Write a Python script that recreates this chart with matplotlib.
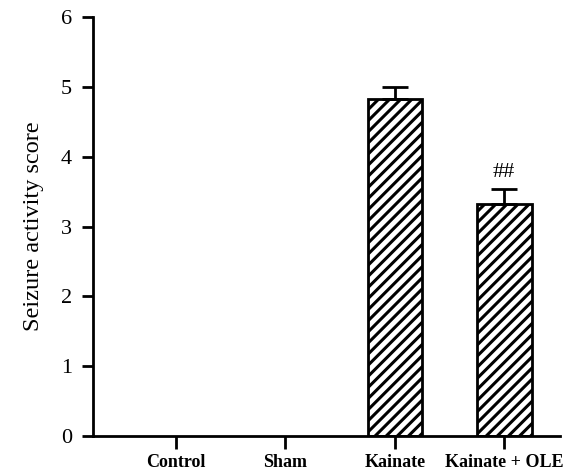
import numpy as np
import matplotlib.pyplot as plt

plt.rcParams['font.family'] = ['Liberation Serif', 'DejaVu Serif']
plt.rcParams['hatch.linewidth'] = 2.2

# data
groups = ['Control', 'Sham', 'Kainate', 'Kainate + OLE']
scores = [0, 0, 4.82, 3.32]
sem = [0, 0, 0.18, 0.22]
marks = ['', '', '', '##']

fig = plt.figure(figsize=(5.69, 4.72), dpi=100)
ax = fig.add_axes([93/569, 1 - 436/472, (560 - 93)/569, (436 - 17)/472])

x = np.arange(len(groups))
for i in range(len(groups)):
    if scores[i] > 0:
        ax.bar(x[i], scores[i], width=0.5, color='white', edgecolor='black',
               linewidth=2, hatch='///', zorder=2)
        ax.errorbar(x[i], scores[i], yerr=[[0], [sem[i]]], color='black',
                    elinewidth=2, capsize=9.5, capthick=2, zorder=3)
    if marks[i]:
        ax.text(x[i], scores[i] + sem[i] + 0.1, marks[i], ha='center',
                va='bottom', fontsize=16)

ax.set_xlim(-0.76, 3.51)
ax.set_ylim(0, 6)
ax.set_yticks(range(7))
ax.set_xticks(x)
ax.set_xticklabels(groups, fontweight='bold', fontsize=13)
ax.set_ylabel('Seizure activity score', fontsize=17.5, labelpad=12)
ax.tick_params(axis='y', labelsize=16, width=2, length=8, pad=7)
ax.tick_params(axis='x', width=2, length=9.5, pad=3.5)
for s in ['top', 'right']:
    ax.spines[s].set_visible(False)
for s in ['left', 'bottom']:
    ax.spines[s].set_linewidth(2)

fig.savefig('out.png', dpi=100)
